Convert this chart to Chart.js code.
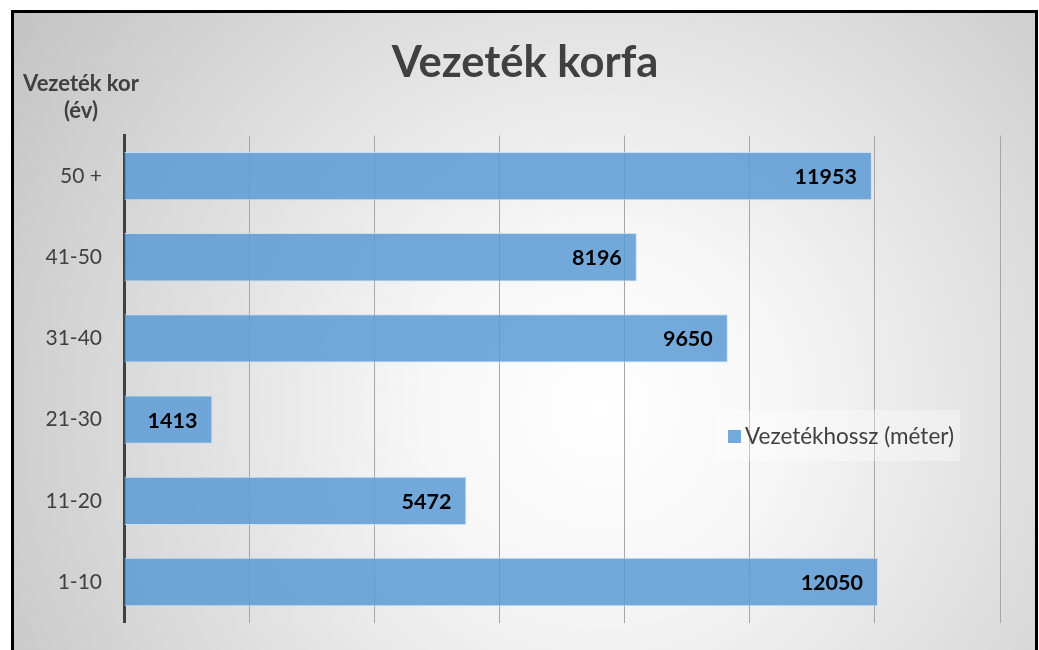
<!DOCTYPE html>
<html>
<head>
<meta charset="utf-8">
<script src="https://cdn.jsdelivr.net/npm/chart.js@4/dist/chart.umd.min.js"></script>
<style>
html,body{margin:0;padding:0;background:#ffffff;}
#wrap{position:relative;width:1039px;height:650px;}
</style>
</head>
<body>
<div id="wrap"><canvas id="c" width="1039" height="650"></canvas></div>
<script>
const categories = ['50 +', '41-50', '31-40', '21-30', '11-20', '1-10'];
const lengths = [11953, 8196, 9650, 1413, 5472, 12050];
const seriesLabel = 'Vezetékhossz (méter)';
const chartTitle = 'Vezeték korfa';
const axisTitle = ['Vezeték kor', '(év)'];
const xMin = 0, xMax = 14000, xStep = 2000;

const FONT = 'Lato, "Open Sans", sans-serif';
const TEXT = '#404040';

const bgPlugin = {
  id: 'bg',
  beforeDraw(chart) {
    const ctx = chart.ctx;
    ctx.save();
    ctx.fillStyle = '#ffffff';
    ctx.fillRect(0, 0, chart.width, chart.height);
    const g = ctx.createRadialGradient(600, 410, 0, 600, 410, 700);
    g.addColorStop(0, '#ffffff');
    g.addColorStop(0.25, '#f7f7f7');
    g.addColorStop(1, '#c4c4c4');
    ctx.fillStyle = g;
    ctx.fillRect(12, 11, 1024, 700);
    ctx.restore();
  },
  afterDraw(chart) {
    const ctx = chart.ctx;
    ctx.save();
    // frame
    ctx.strokeStyle = '#000000';
    ctx.lineWidth = 3;
    ctx.strokeRect(12.5, 11.5, 1024, 700);
    // title
    ctx.fillStyle = TEXT;
    ctx.textAlign = 'center';
    ctx.textBaseline = 'alphabetic';
    ctx.font = 'bold 43.5px ' + FONT;
    ctx.fillText(chartTitle, 525, 77);
    // axis title
    ctx.font = 'bold 22px ' + FONT;
    ctx.fillText(axisTitle[0], 81, 91);
    ctx.fillText(axisTitle[1], 81, 118);
    // data labels
    const meta = chart.getDatasetMeta(0);
    ctx.fillStyle = '#000000';
    ctx.font = 'bold 21.5px ' + FONT;
    ctx.textAlign = 'right';
    ctx.textBaseline = 'middle';
    meta.data.forEach((el, i) => {
      ctx.fillText(String(chart.data.datasets[0].data[i]), el.x - 15, el.y + 1);
    });
    // legend
    ctx.fillStyle = 'rgba(255,255,255,0.35)';
    ctx.fillRect(717, 410, 243, 51);
    ctx.fillStyle = chart.data.datasets[0].backgroundColor;
    ctx.fillRect(728, 430, 13, 13);
    ctx.fillStyle = TEXT;
    ctx.font = '22.5px ' + FONT;
    ctx.textAlign = 'left';
    ctx.textBaseline = 'middle';
    ctx.fillText(chart.data.datasets[0].label, 745, 437);
    ctx.restore();
  }
};

new Chart(document.getElementById('c'), {
  type: 'bar',
  data: {
    labels: categories,
    datasets: [{
      label: seriesLabel,
      data: lengths,
      backgroundColor: 'rgba(91,155,213,0.85)',
      borderColor: 'rgba(200,222,243,0.95)',
      borderWidth: 1,
      barPercentage: 0.595,
      categoryPercentage: 1.0
    }]
  },
  options: {
    indexAxis: 'y',
    responsive: false,
    animation: false,
    layout: { padding: { left: 12, top: 135.5, right: 39, bottom: 27.4 } },
    plugins: { legend: { display: false }, title: { display: false }, tooltip: { enabled: false } },
    scales: {
      x: {
        min: xMin, max: xMax,
        ticks: { display: false, stepSize: xStep },
        grid: { color: '#a6a6a6', lineWidth: 1, drawTicks: false },
        border: { display: false },
        afterFit(s) { s.height = 0; s.paddingLeft = 0; s.paddingRight = 0; }
      },
      y: {
        ticks: { color: TEXT, font: { family: FONT, size: 21 }, padding: 22 },
        grid: { display: false, drawTicks: false },
        border: { display: true, color: '#404040', width: 3 },
        afterFit(s) { s.width = 112; s.paddingTop = 0; s.paddingBottom = 0; }
      }
    }
  },
  plugins: [bgPlugin]
});
</script>
</body>
</html>
